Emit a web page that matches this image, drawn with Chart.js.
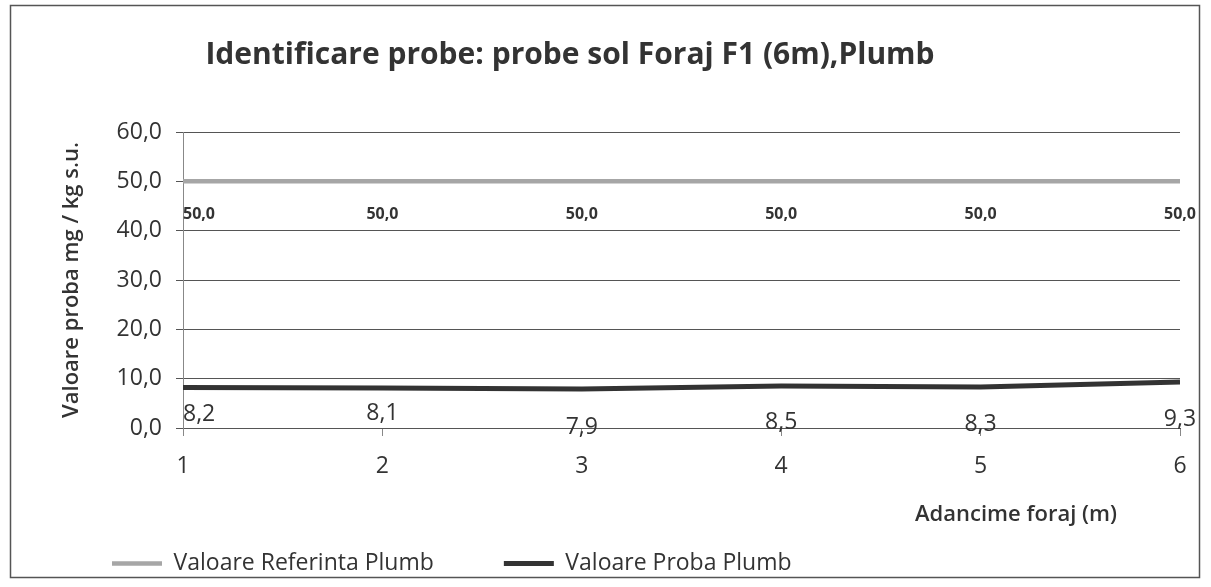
<!DOCTYPE html>
<html>
<head>
<meta charset="utf-8">
<script src="https://cdn.jsdelivr.net/npm/chart.js@4/dist/chart.umd.min.js"></script>
<style>
  html, body { margin: 0; padding: 0; background: #fff; }
  #wrap { position: relative; width: 1211px; height: 587px; }
</style>
</head>
<body>
<div id="wrap"><canvas id="chartPlumb" width="1211" height="587"></canvas></div>
<script>
// date
const adancimi = ['1', '2', '3', '4', '5', '6'];
const valoriReferinta = [50.0, 50.0, 50.0, 50.0, 50.0, 50.0];
const valoriProba = [8.2, 8.1, 7.9, 8.5, 8.3, 9.3];
const pasY = 10;
const maxY = 60;

const titluGrafic = 'Identificare probe: probe sol Foraj F1 (6m),Plumb';
const titluX = 'Adancime foraj (m)';
const titluY = 'Valoare proba mg / kg s.u.';

const fontBaza = "'Open Sans', 'Noto Sans', sans-serif";
const culoareText = '#333333';

function formatVal(v) {
  return Number(v).toFixed(1).replace('.', ',');
}

// etichetele cu valori, sub fiecare punct (ca in Excel)
const etichetePlugin = {
  id: 'etichete',
  afterDatasetsDraw(chart, args, opts) {
    const ctx = chart.ctx;
    const area = chart.chartArea;
    chart.data.datasets.forEach((ds, i) => {
      const cfg = opts.seturi[i];
      const meta = chart.getDatasetMeta(i);
      ctx.save();
      ctx.font = cfg.font;
      ctx.fillStyle = cfg.color;
      ctx.textAlign = 'left';
      ctx.textBaseline = 'middle';
      meta.data.forEach((pt, j) => {
        const txt = formatVal(ds.data[j]);
        const w = ctx.measureText(txt).width;
        let x = pt.x - w / 2;
        if (x < area.left) x = area.left;
        ctx.fillText(txt, x, pt.y + cfg.dy[j]);
      });
      ctx.restore();
    });
  }
};

// chenar, titlu si titlul axei X
const textePlugin = {
  id: 'texte',
  beforeDraw(chart) {
    const ctx = chart.ctx;
    ctx.save();
    ctx.strokeStyle = '#555';
    ctx.lineWidth = 1.5;
    ctx.strokeRect(10.5, 5.5, 1189, 572);
    ctx.restore();
  },
  afterDraw(chart) {
    const ctx = chart.ctx;
    ctx.save();
    ctx.fillStyle = culoareText;
    ctx.textAlign = 'center';
    ctx.textBaseline = 'alphabetic';
    ctx.font = 'bold 30px ' + fontBaza;
    ctx.fillText(titluGrafic, 570, 64);
    ctx.textBaseline = 'middle';
    ctx.font = '600 22px ' + fontBaza;
    ctx.fillText(titluX, 1016, 515);
    ctx.restore();
  }
};

const ctx = document.getElementById('chartPlumb').getContext('2d');

new Chart(ctx, {
  type: 'line',
  data: {
    labels: adancimi,
    datasets: [{
      label: 'Valoare Referinta Plumb',
      data: valoriReferinta,
      borderColor: '#a6a6a6',
      backgroundColor: '#a6a6a6',
      borderWidth: 4.5,
      pointRadius: 0,
      tension: 0
    }, {
      label: 'Valoare Proba Plumb',
      data: valoriProba,
      borderColor: '#333333',
      backgroundColor: '#333333',
      borderWidth: 5,
      pointRadius: 0,
      tension: 0
    }]
  },
  options: {
    responsive: false,
    animation: false,
    layout: {
      padding: { left: 42, right: 31, top: 132, bottom: 2 }
    },
    plugins: {
      title: { display: false },
      tooltip: { enabled: false },
      legend: {
        position: 'bottom',
        align: 'start',
        labels: {
          usePointStyle: true,
          pointStyle: 'line',
          pointStyleWidth: 50,
          padding: 70,
          color: culoareText,
          font: { family: fontBaza, size: 23 }
        }
      },
      etichete: {
        seturi: [
          { font: 'bold 16px ' + fontBaza, color: culoareText, dy: [33, 33, 33, 33, 33, 33] },
          { font: '23px ' + fontBaza, color: culoareText, dy: [27, 25, 38, 36, 37, 37] }
        ]
      }
    },
    scales: {
      x: {
        offset: false,
        afterFit(scale) { scale.height = 54; },
        grid: {
          drawOnChartArea: false,
          drawTicks: true,
          tickLength: 8,
          color: '#888'
        },
        border: { display: true, color: '#555', width: 1 },
        ticks: {
          color: culoareText,
          padding: 17,
          font: { family: fontBaza, size: 23 }
        }
      },
      y: {
        min: 0,
        max: maxY,
        afterFit(scale) { scale.width = 141; },
        grid: {
          color: '#555',
          lineWidth: 1,
          tickLength: 7
        },
        border: { display: true, color: '#888', width: 1 },
        ticks: {
          stepSize: pasY,
          padding: 14,
          color: culoareText,
          font: { family: fontBaza, size: 23 },
          callback: value => formatVal(value)
        },
        title: {
          display: true,
          text: titluY,
          color: culoareText,
          padding: { top: 17, bottom: 0 },
          font: { family: fontBaza, size: 22, weight: '600' }
        }
      }
    }
  },
  plugins: [etichetePlugin, textePlugin]
});
</script>
</body>
</html>
